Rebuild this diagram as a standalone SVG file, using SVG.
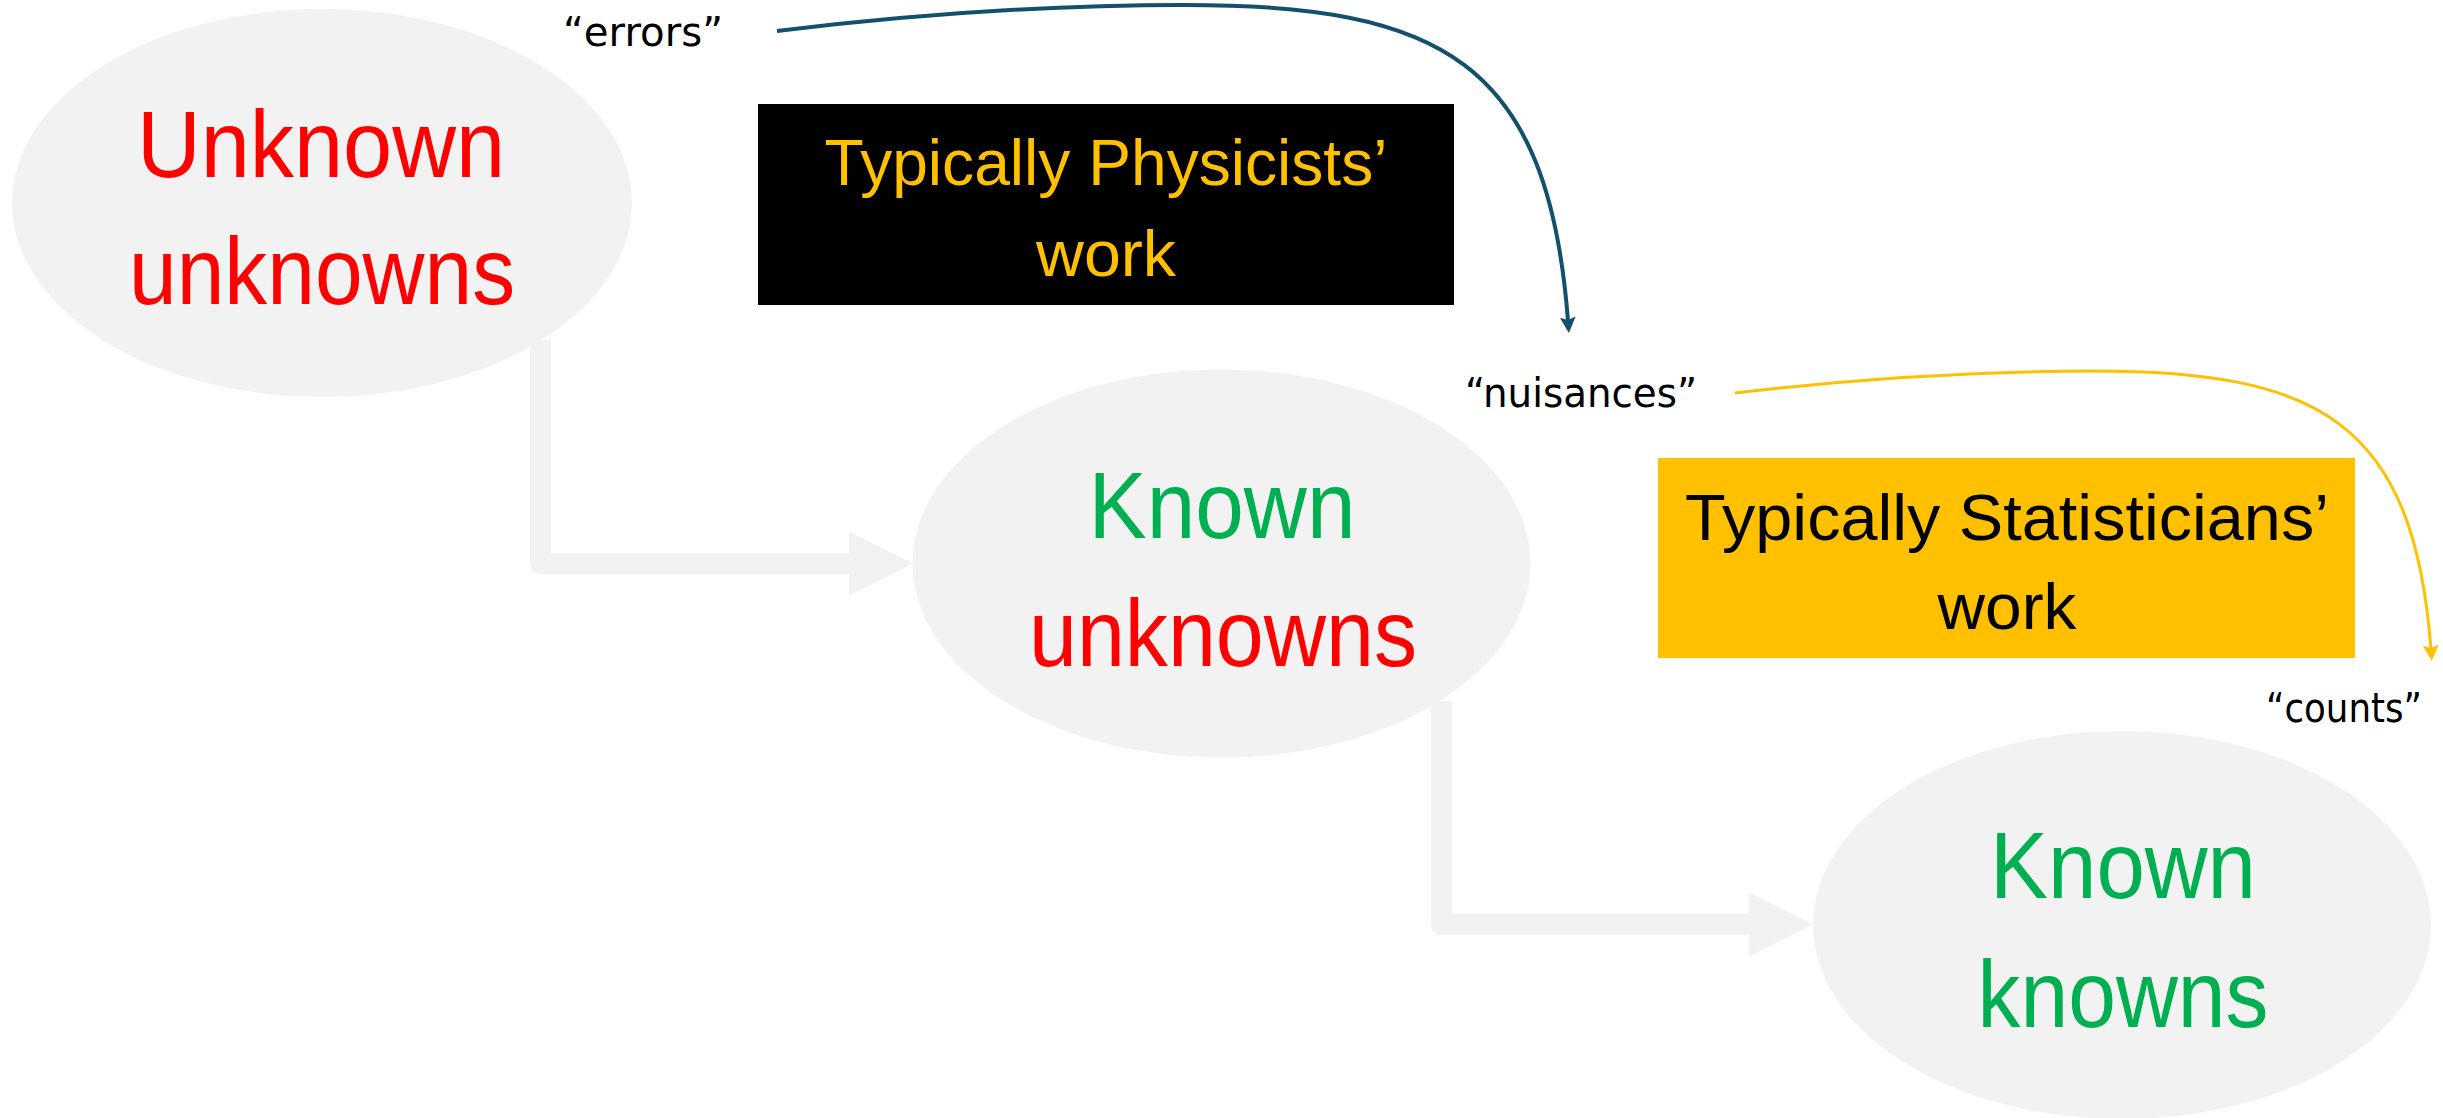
<svg xmlns="http://www.w3.org/2000/svg" width="2443" height="1118" viewBox="0 0 2443 1118">
  <defs>
    <style>
      .ell { fill: #F2F2F2; }
      .big { font-family: "Liberation Sans", Arial, sans-serif; font-size: 94px; text-anchor: middle; }
      .box { font-family: "Liberation Sans", Arial, sans-serif; font-size: 65px; text-anchor: middle; }
      .lbl { font-family: "DejaVu Sans", "Liberation Sans", sans-serif; font-size: 41px; fill: #000000; }
      .red { fill: #FF0000; }
      .green { fill: #00B050; }
      .gold { fill: #FFC000; }
      .flow { fill: none; stroke: #F2F2F2; stroke-width: 21; stroke-linejoin: round; stroke-linecap: butt; }
    </style>
    <marker id="bigHead" viewBox="0 0 64 64" markerWidth="64" markerHeight="64" refX="0" refY="32" markerUnits="userSpaceOnUse" orient="auto">
      <polygon points="0,0 64,32 0,64" fill="#F2F2F2"/>
    </marker>
    <marker id="blueHead" viewBox="0 0 16 16" markerWidth="16" markerHeight="16" refX="4" refY="8" markerUnits="userSpaceOnUse" orient="auto">
      <path d="M0,0 L16,8 L0,16 L3,8 z" fill="#13506E"/>
    </marker>
    <marker id="goldHead" viewBox="0 0 16 16" markerWidth="16" markerHeight="16" refX="5" refY="8" markerUnits="userSpaceOnUse" orient="auto">
      <path d="M0,0 L16,8 L0,16 L3,8 z" fill="#FFC000"/>
    </marker>
  </defs>

  <rect x="0" y="0" width="2443" height="1118" fill="#FFFFFF"/>

  <g id="connectors">
    <path class="flow" d="M540.5,340 V563.5 H849" marker-end="url(#bigHead)"/>
    <path class="flow" d="M1441.5,701 V924.5 H1749" marker-end="url(#bigHead)"/>
    <path d="M777,31 C950,10 1080,5 1184,5 C1440,5 1548,60 1568,321" fill="none" stroke="#13506E" stroke-width="4" marker-end="url(#blueHead)"/>
    <path d="M1735,393 C1887,375 2002,371 2093,371 C2318,371 2414,421 2431,650" fill="none" stroke="#FFC000" stroke-width="3" marker-end="url(#goldHead)"/>
  </g>

  <g id="node-unknown-unknowns">
    <ellipse class="ell" cx="322" cy="203" rx="310" ry="194"/>
    <text class="big red" x="321" y="177" textLength="368" lengthAdjust="spacingAndGlyphs">Unknown</text>
    <text class="big red" x="322" y="304" textLength="386" lengthAdjust="spacingAndGlyphs">unknowns</text>
  </g>

  <g id="node-known-unknowns">
    <ellipse class="ell" cx="1221.5" cy="563.5" rx="309" ry="194"/>
    <text class="big green" x="1222" y="538" textLength="267" lengthAdjust="spacingAndGlyphs">Known</text>
    <text class="big red" x="1223" y="666" textLength="388" lengthAdjust="spacingAndGlyphs">unknowns</text>
  </g>

  <g id="node-known-knowns">
    <ellipse class="ell" cx="2122" cy="925" rx="309" ry="194"/>
    <text class="big green" x="2123" y="898" textLength="266" lengthAdjust="spacingAndGlyphs">Known</text>
    <text class="big green" x="2123" y="1027" textLength="291" lengthAdjust="spacingAndGlyphs">knowns</text>
  </g>

  <g id="node-physicists">
    <rect x="758" y="104" width="696" height="201" fill="#000000"/>
    <text class="box gold" x="1106" y="185" textLength="563" lengthAdjust="spacingAndGlyphs">Typically Physicists’</text>
    <text class="box gold" x="1106" y="276" textLength="140" lengthAdjust="spacingAndGlyphs">work</text>
  </g>

  <g id="node-statisticians">
    <rect x="1658" y="458" width="697" height="200" fill="#FFC000"/>
    <text class="box" x="2007" y="540" fill="#000000" textLength="644" lengthAdjust="spacingAndGlyphs">Typically Statisticians’</text>
    <text class="box" x="2007" y="629" fill="#000000" textLength="139" lengthAdjust="spacingAndGlyphs">work</text>
  </g>

  <g id="label-errors">
    <text class="lbl" x="563" y="46" textLength="160" lengthAdjust="spacingAndGlyphs">“errors”</text>
  </g>
  <g id="label-nuisances">
    <text class="lbl" x="1465" y="407" textLength="232" lengthAdjust="spacingAndGlyphs">“nuisances”</text>
  </g>
  <g id="label-counts">
    <text class="lbl" x="2266" y="722" textLength="156" lengthAdjust="spacingAndGlyphs">“counts”</text>
  </g>
</svg>
